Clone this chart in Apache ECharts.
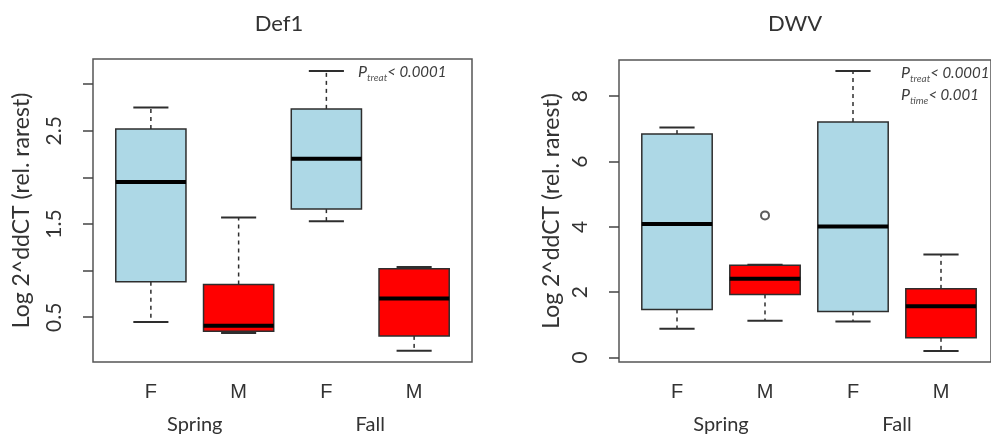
<!DOCTYPE html>
<html>
<head>
    <meta charset="UTF-8">
    <title>Def1 / DWV</title>
    <script type="text/javascript" src="https://cdn.jsdelivr.net/npm/echarts@6/dist/echarts.min.js"></script>
</head>
<body style="margin: 0;overflow: hidden;background: #fff;width: 991px;height: 436px;">
<div id="chart" style="width: 991px;height: 436px"></div>
<script type="text/javascript">
    // sex per box, season under each pair
    var sexes = ['F', 'M', 'F', 'M'];
    var seasons = ['Spring', 'Fall'];
    // [low whisker, Q1, median, Q3, high whisker] per box
    var def1Stats = [
        [0.45, 0.88, 1.95, 2.52, 2.75],
        [0.33, 0.35, 0.41, 0.85, 1.57],
        [1.53, 1.66, 2.20, 2.735, 3.14],
        [0.14, 0.30, 0.70, 1.02, 1.04]
    ];
    var dwvStats = [
        [0.88, 1.47, 4.09, 6.84, 7.04],
        [1.12, 1.93, 2.41, 2.82, 2.84],
        [1.10, 1.41, 4.01, 7.21, 8.77],
        [0.20, 0.60, 1.57, 2.10, 3.15]
    ];
    var dwvOutliers = [[1, 4.35]];
    var def1Ticks = [0.5, 1, 1.5, 2, 2.5, 3];
    var def1Labels = [0.5, 1.5, 2.5];
    var dwvTicks = [0, 2, 4, 6, 8];
    var boxColors = ['#ADD8E6', '#FF0000'];

    var textColor = '#333';
    var fontName = 'Lato, "Open Sans", sans-serif';

    function boxData(stats) {
        return stats.map(function (s, i) {
            return [i, s[0], s[1], s[2], s[3], s[4]];
        });
    }

    function renderBox(params, api) {
        var idx = api.value(0);
        var low = api.coord([idx, api.value(1)]);
        var q1 = api.coord([idx, api.value(2)]);
        var med = api.coord([idx, api.value(3)]);
        var q3 = api.coord([idx, api.value(4)]);
        var high = api.coord([idx, api.value(5)]);
        var band = api.size([1, 0])[0];
        var half = band * 0.8 / 2;
        var cap = half / 2;
        var x = low[0];
        var edge = '#2e2e2e';
        return {
            type: 'group',
            children: [{
                type: 'line',
                shape: {x1: x, y1: q3[1], x2: x, y2: high[1]},
                style: {stroke: edge, lineWidth: 1.5, lineDash: [4, 4]}
            }, {
                type: 'line',
                shape: {x1: x, y1: q1[1], x2: x, y2: low[1]},
                style: {stroke: edge, lineWidth: 1.5, lineDash: [4, 4]}
            }, {
                type: 'line',
                shape: {x1: x - cap, y1: high[1], x2: x + cap, y2: high[1]},
                style: {stroke: edge, lineWidth: 2}
            }, {
                type: 'line',
                shape: {x1: x - cap, y1: low[1], x2: x + cap, y2: low[1]},
                style: {stroke: edge, lineWidth: 2}
            }, {
                type: 'rect',
                shape: {x: x - half, y: q3[1], width: half * 2, height: q1[1] - q3[1]},
                style: {fill: boxColors[idx % 2], stroke: edge, lineWidth: 1.5}
            }, {
                type: 'line',
                shape: {x1: x - half, y1: med[1], x2: x + half, y2: med[1]},
                style: {stroke: '#000', lineWidth: 4}
            }]
        };
    }

    function frameYAxis(grid, min, max, ticks, labels, margin, gap) {
        return {
            gridIndex: grid,
            type: 'value',
            min: min,
            max: max,
            name: 'Log 2^ddCT (rel. rarest)',
            nameLocation: 'middle',
            nameGap: gap,
            nameTextStyle: {color: textColor, fontSize: 23, fontFamily: fontName},
            axisLine: {show: false},
            splitLine: {show: false},
            axisTick: {show: true, length: 10, customValues: ticks, lineStyle: {color: '#444', width: 1.5}},
            axisLabel: {
                customValues: labels,
                rotate: 90,
                margin: margin,
                color: textColor,
                fontSize: 21,
                fontFamily: fontName
            }
        };
    }

    function pText(x, y, sub, val) {
        return {
            type: 'text',
            left: x,
            top: y,
            style: {
                text: '{p|P}{s|' + sub + '}{t|< ' + val + '}',
                rich: {
                    p: {fontSize: 16, fontStyle: 'italic', fill: '#3c3c3c', fontFamily: fontName, lineHeight: 19, verticalAlign: 'bottom'},
                    s: {fontSize: 10, fontStyle: 'italic', fill: '#555', fontFamily: fontName, lineHeight: 19, verticalAlign: 'bottom', padding: [0, 0, -3, 0]},
                    t: {fontSize: 15, fontStyle: 'italic', fill: '#3c3c3c', fontFamily: fontName, lineHeight: 19, verticalAlign: 'bottom'}
                }
            }
        };
    }

    var chart = echarts.init(document.getElementById('chart'));
    var option = {
        backgroundColor: '#fff',
        animation: false,
        title: [{
            text: 'Def1', left: 274, top: 8, textAlign: 'center',
            textStyle: {color: textColor, fontSize: 22, fontWeight: 'normal', fontFamily: fontName}
        }, {
            text: 'DWV', left: 790, top: 8, textAlign: 'center',
            textStyle: {color: textColor, fontSize: 22, fontWeight: 'normal', fontFamily: fontName}
        }],
        grid: [
            {left: 93, top: 59, width: 379, height: 303, show: true, borderColor: '#555', borderWidth: 1.5, backgroundColor: 'transparent'},
            {left: 107, top: 59, width: 351, height: 303},
            {left: 619, top: 60, width: 381, height: 302, show: true, borderColor: '#555', borderWidth: 1.5, backgroundColor: 'transparent'},
            {left: 633, top: 60, width: 352, height: 302}
        ],
        xAxis: [
            {gridIndex: 0, type: 'value', show: false},
            {
                gridIndex: 1, type: 'category', data: sexes,
                axisLine: {show: false},
                axisTick: {alignWithLabel: true, length: 8, lineStyle: {color: '#444', width: 1.5}},
                axisLabel: {interval: 0, margin: 20, color: textColor, fontSize: 20, fontFamily: 'Liberation Sans, Arial, sans-serif'}
            },
            {
                gridIndex: 1, type: 'category', data: seasons, position: 'bottom',
                axisLine: {show: false}, axisTick: {show: false},
                axisLabel: {interval: 0, margin: 53, color: textColor, fontSize: 20, fontFamily: fontName}
            },
            {gridIndex: 2, type: 'value', show: false},
            {
                gridIndex: 3, type: 'category', data: sexes,
                axisLine: {show: false},
                axisTick: {alignWithLabel: true, length: 8, lineStyle: {color: '#444', width: 1.5}},
                axisLabel: {interval: 0, margin: 20, color: textColor, fontSize: 20, fontFamily: 'Liberation Sans, Arial, sans-serif'}
            },
            {
                gridIndex: 3, type: 'category', data: seasons, position: 'bottom',
                axisLine: {show: false}, axisTick: {show: false},
                axisLabel: {interval: 0, margin: 53, color: textColor, fontSize: 20, fontFamily: fontName}
            }
        ],
        yAxis: [
            frameYAxis(0, 0.02, 3.27, def1Ticks, def1Labels, 28, 60),
            {gridIndex: 1, type: 'value', min: 0.02, max: 3.27, show: false},
            frameYAxis(2, -0.14, 9.11, dwvTicks, dwvTicks, 28, 56),
            {gridIndex: 3, type: 'value', min: -0.14, max: 9.11, show: false}
        ],
        graphic: [
            pText(358, 64, 'treat', '0.0001'),
            pText(901, 65, 'treat', '0.0001'),
            pText(901, 87, 'time', '0.001')
        ],
        series: [{
            name: 'Def1',
            type: 'custom',
            xAxisIndex: 1,
            yAxisIndex: 1,
            renderItem: renderBox,
            encode: {x: 0, y: [1, 2, 3, 4, 5]},
            data: boxData(def1Stats)
        }, {
            name: 'DWV',
            type: 'custom',
            xAxisIndex: 4,
            yAxisIndex: 3,
            renderItem: renderBox,
            encode: {x: 0, y: [1, 2, 3, 4, 5]},
            data: boxData(dwvStats)
        }, {
            name: 'DWV outliers',
            type: 'scatter',
            xAxisIndex: 4,
            yAxisIndex: 3,
            symbol: 'emptyCircle',
            symbolSize: 8,
            itemStyle: {color: '#333', borderWidth: 1.5},
            data: dwvOutliers
        }]
    };
    chart.setOption(option);
</script>
</body>
</html>
